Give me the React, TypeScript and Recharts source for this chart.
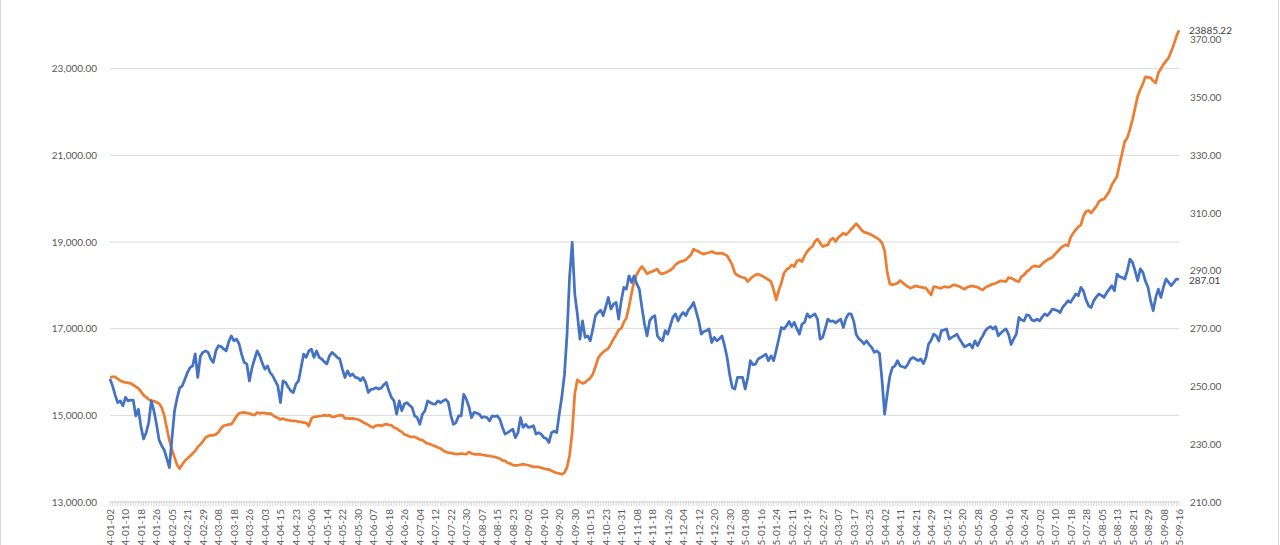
import { CartesianGrid, Line, LineChart, XAxis, YAxis } from 'recharts';

// exchange holidays on weekdays, used to build the trading-day axis
const holidays = [
  '2024-01-01', '2024-02-09', '2024-02-12', '2024-02-13', '2024-02-14', '2024-02-15', '2024-02-16',
  '2024-04-04', '2024-04-05', '2024-05-01', '2024-05-02', '2024-05-03', '2024-06-10',
  '2024-09-16', '2024-09-17', '2024-10-01', '2024-10-02', '2024-10-03', '2024-10-04', '2024-10-07',
  '2025-01-01', '2025-01-28', '2025-01-29', '2025-01-30', '2025-01-31', '2025-02-03', '2025-02-04',
  '2025-04-04', '2025-05-01', '2025-05-02', '2025-05-05', '2025-06-02',
];

function tradingDays(start: string, end: string) {
  const out: string[] = [];
  const d = new Date(start + 'T00:00:00Z');
  const stop = new Date(end + 'T00:00:00Z');
  while (d <= stop) {
    const s = d.toISOString().slice(0, 10);
    const wd = d.getUTCDay();
    if (wd !== 0 && wd !== 6 && !holidays.includes(s)) out.push(s);
    d.setUTCDate(d.getUTCDate() + 1);
  }
  return out;
}

const dates = tradingDays('2024-01-02', '2025-09-16');
const labelEvery = 6;

const leftTicks = [13000, 15000, 17000, 19000, 21000, 23000, 25000];
const rightTicks = [210, 230, 250, 270, 290, 310, 330, 350, 370, 390];

// left axis series (orange)
const orange = [
  15876, 15885, 15890, 15840, 15800, 15774, 15760, 15750, 15737, 15700,
  15660, 15622, 15550, 15467, 15420, 15367, 15340, 15330, 15300, 15275,
  15180, 15000, 14700, 14427, 14200, 14030, 13850, 13772, 13870, 13950,
  14003, 14060, 14119, 14180, 14272, 14330, 14400, 14490, 14520, 14542,
  14540, 14560, 14610, 14700, 14760, 14772, 14790, 14796, 14880, 14980,
  15044, 15060, 15067, 15050, 15044, 15020, 15005, 15067, 15044, 15060,
  15050, 15040, 15044, 15005, 14965, 14940, 14905, 14928, 14900, 14889,
  14880, 14874, 14865, 14855, 14850, 14830, 14827, 14750, 14930, 14965,
  14970, 14980, 14990, 15005, 14990, 15005, 14965, 14965, 14990, 15000,
  15005, 14928, 14930, 14925, 14928, 14915, 14905, 14880, 14840, 14813,
  14780, 14740, 14720, 14760, 14773, 14757, 14780, 14796, 14780, 14773,
  14720, 14697, 14650, 14618, 14560, 14542, 14510, 14503, 14503, 14470,
  14440, 14427, 14380, 14350, 14334, 14310, 14288, 14260, 14235, 14190,
  14156, 14140, 14133, 14115, 14103, 14110, 14119, 14110, 14103, 14156,
  14120, 14103, 14100, 14103, 14090, 14080, 14070, 14064, 14050, 14041,
  14020, 14003, 13960, 13948, 13900, 13888, 13850, 13848, 13848, 13860,
  13872, 13860, 13848, 13830, 13809, 13810, 13809, 13790, 13772, 13760,
  13749, 13720, 13694, 13670, 13657, 13640, 13680, 13800, 14080, 14620,
  15500, 15820, 15774, 15737, 15760, 15814, 15860, 15950, 16121, 16316,
  16400, 16460, 16507, 16547, 16650, 16760, 16854, 16970, 17009, 17150,
  17250, 17509, 17818, 18100, 18250, 18357, 18433, 18357, 18265, 18300,
  18318, 18350, 18373, 18281, 18265, 18290, 18318, 18350, 18396, 18480,
  18520, 18549, 18560, 18588, 18650, 18704, 18835, 18800, 18780, 18740,
  18720, 18745, 18758, 18780, 18750, 18735, 18740, 18745, 18710, 18681,
  18580, 18473, 18281, 18230, 18202, 18180, 18165, 18087, 18150, 18202,
  18240, 18257, 18230, 18202, 18165, 18130, 18087, 17900, 17663, 17880,
  18050, 18281, 18360, 18400, 18473, 18433, 18560, 18588, 18549, 18680,
  18780, 18850, 18896, 19011, 19067, 18980, 18896, 18920, 18935, 19050,
  19090, 19011, 19100, 19150, 19206, 19166, 19220, 19290, 19358, 19420,
  19358, 19280, 19229, 19210, 19189, 19160, 19127, 19090, 19050, 18974,
  18800, 18300, 18033, 18010, 18030, 18049, 18110, 18060, 18010, 17970,
  17934, 17960, 17987, 17970, 17957, 17945, 17934, 17855, 17779, 17971,
  17960, 17940, 17934, 17971, 17960, 17957, 17990, 18010, 17990, 17971,
  17940, 17911, 17957, 17975, 17987, 17970, 17957, 17920, 17894, 17948,
  17980, 18010, 18030, 18049, 18080, 18102, 18095, 18087, 18180, 18165,
  18140, 18100, 18087, 18202, 18241, 18318, 18357, 18420, 18449, 18440,
  18433, 18490, 18549, 18590, 18620, 18650, 18720, 18780, 18850, 18900,
  18935, 18912, 19100, 19206, 19282, 19350, 19397, 19600, 19705, 19728,
  19668, 19750, 19821, 19930, 19976, 19991, 20080, 20168, 20322, 20420,
  20514, 20800, 21055, 21323, 21402, 21600, 21825, 22095, 22364, 22519,
  22650, 22812, 22800, 22789, 22720, 22673, 22905, 23000, 23100, 23180,
  23251, 23404, 23560, 23740, 23885.22,
];

// right axis series (blue)
const blue = [
  252.6, 250.2, 247.0, 244.4, 245.0, 243.3, 246.2, 245.0, 245.3, 245.3,
  239.8, 242.1, 236.0, 231.8, 234.0, 237.5, 245.0, 241.6, 237.0, 231.5,
  229.5, 228.0, 225.0, 221.9, 232.0, 241.6, 246.0, 249.5, 250.2, 252.5,
  254.8, 256.5, 257.1, 261.3, 253.1, 260.5, 261.8, 262.3, 261.8, 259.5,
  258.3, 262.3, 264.1, 263.8, 263.0, 262.3, 265.5, 267.5, 265.8, 266.4,
  264.7, 261.0, 258.3, 257.7, 251.9, 256.5, 259.5, 262.3, 260.6, 258.0,
  256.0, 257.1, 254.8, 253.7, 251.9, 250.2, 244.4, 251.9, 251.4, 249.8,
  248.5, 247.9, 250.8, 251.9, 256.5, 261.2, 260.1, 262.3, 262.9, 260.1,
  262.3, 260.1, 259.5, 258.5, 257.8, 260.6, 261.8, 261.0, 260.1, 259.5,
  256.0, 253.1, 255.4, 253.7, 254.3, 253.1, 253.0, 252.0, 253.1, 251.4,
  247.9, 249.0, 249.1, 249.6, 249.1, 249.4, 250.5, 251.4, 248.5, 246.2,
  245.0, 240.4, 245.0, 241.6, 243.9, 244.4, 243.5, 242.7, 239.8, 239.2,
  236.9, 240.4, 241.6, 245.0, 244.4, 244.0, 243.9, 245.0, 244.4, 245.0,
  245.5, 244.5, 240.0, 236.9, 237.5, 239.8, 239.8, 247.3, 245.6, 243.0,
  239.2, 241.0, 240.8, 240.4, 239.2, 239.5, 239.2, 238.1, 239.8, 239.6,
  239.8, 238.6, 235.8, 233.5, 234.0, 234.6, 235.2, 232.3, 234.0, 239.2,
  235.8, 236.9, 235.8, 236.0, 236.4, 233.5, 234.0, 233.5, 232.3, 232.0,
  230.6, 234.0, 234.5, 234.0, 240.5, 246.5, 254.0, 268.0, 288.0, 299.9,
  282.0, 275.0, 266.4, 272.7, 267.0, 267.5, 265.8, 270.0, 274.5, 275.6,
  276.4, 274.5, 277.5, 280.8, 276.8, 278.5, 279.1, 273.3, 279.7, 284.3,
  283.7, 288.3, 286.0, 288.3, 285.5, 283.7, 277.3, 271.6, 267.5, 272.7,
  274.0, 274.5, 267.5, 266.4, 265.8, 269.3, 268.1, 271.0, 274.0, 275.1,
  272.7, 274.5, 275.6, 274.5, 276.5, 277.5, 279.1, 276.0, 272.7, 268.1,
  269.0, 269.3, 269.9, 265.2, 267.0, 265.8, 266.5, 267.5, 264.1, 260.0,
  254.0, 249.6, 249.1, 253.1, 253.1, 253.1, 249.1, 253.1, 258.9, 257.5,
  257.7, 259.5, 260.0, 260.6, 261.2, 258.9, 260.6, 258.9, 262.5, 266.4,
  270.4, 269.9, 271.0, 272.5, 270.7, 272.2, 270.0, 268.1, 271.6, 272.2,
  275.1, 273.9, 274.5, 275.1, 273.3, 266.4, 267.0, 270.0, 273.3, 272.5,
  272.7, 272.0, 272.7, 273.3, 270.4, 273.5, 275.1, 275.1, 272.7, 268.0,
  266.5, 265.8, 264.7, 265.8, 264.5, 263.5, 261.8, 262.3, 261.5, 252.0,
  240.4, 247.3, 253.5, 256.5, 257.1, 258.9, 257.1, 256.8, 256.5, 257.7,
  259.5, 260.0, 259.5, 258.9, 259.5, 257.9, 260.0, 264.6, 266.0, 268.1,
  267.5, 265.8, 269.3, 269.5, 269.9, 266.4, 267.0, 267.5, 268.1, 266.4,
  265.0, 263.7, 264.2, 264.7, 263.3, 265.8, 264.1, 266.0, 267.5, 269.3,
  270.2, 270.7, 269.9, 270.7, 267.5, 268.5, 269.3, 269.9, 268.0, 264.5,
  266.5, 268.1, 273.9, 273.0, 272.7, 274.8, 274.5, 273.0, 272.7, 273.3,
  272.7, 274.0, 275.1, 274.5, 275.5, 276.8, 276.5, 276.2, 275.6, 277.5,
  278.5, 279.7, 279.1, 280.5, 282.0, 281.4, 284.3, 283.0, 280.0, 277.9,
  277.3, 279.7, 281.0, 282.0, 281.5, 280.8, 282.5, 283.7, 284.9, 283.1,
  288.9, 288.0, 287.7, 287.2, 290.1, 294.1, 292.9, 290.0, 286.6, 290.7,
  289.5, 286.5, 284.3, 279.7, 276.2, 280.8, 283.7, 280.8, 284.5, 287.2,
  286.0, 284.9, 286.0, 287.2, 287.01,
];

const data = dates.map((date, i) => ({ date, orange: orange[i], blue: blue[i] }));
const last = data.length - 1;

const orangeColor = '#ed7d31';
const blueColor = '#4472c4';
const axisText = '#595959';
const gridColor = '#d9d9d9';
const font = 'Lato, "Liberation Sans", sans-serif';
const fontSize = 10;

const DateTick = (props: any) => {
  const { x, y, payload, index } = props;
  if (index % labelEvery !== 0) return <g />;
  const ty = y + 1;
  return (
    <text x={x} y={ty} transform={`rotate(-90, ${x}, ${ty})`} textAnchor="end" dominantBaseline="central"
      fontSize={fontSize} fontFamily={font} fill={axisText}>
      {payload.value}
    </text>
  );
};

const endLabel = (fmt: (v: number) => string) => (props: any) => {
  const { x, y, value, index } = props;
  if (index !== last) return <g />;
  return (
    <text x={x + 10} y={y} dominantBaseline="central" fontSize={fontSize} fontFamily={font} fill="#404040">
      {fmt(value)}
    </text>
  );
};

export default function App() {
  return (
    <div style={{ position: 'fixed', inset: 0, overflow: 'hidden', background: '#fff' }}>
      <div style={{ position: 'absolute', left: 0, top: -5, width: 1279, height: 600, boxSizing: 'border-box', border: `1px solid ${gridColor}` }} />
      <div style={{ position: 'absolute', left: 0, top: -30 }}>
        <LineChart width={1280} height={592} data={data} margin={{ top: 12, right: 0, bottom: 0, left: 0 }}>
          <CartesianGrid yAxisId="left" vertical={false} stroke={gridColor} />
          <XAxis dataKey="date" interval={0} tick={DateTick} tickSize={4} height={60}
            stroke={gridColor} tickLine={{ stroke: gridColor }} padding={{ left: 0, right: 0 }} />
          <YAxis yAxisId="left" orientation="left" width={110} domain={[13000, 25000]} ticks={leftTicks}
            axisLine={false} tickLine={false} tickSize={0} tickMargin={13} interval={0}
            tick={{ fontSize, fontFamily: font, fill: axisText }}
            tickFormatter={(v: number) => v.toLocaleString('en-US', { minimumFractionDigits: 2, maximumFractionDigits: 2 })} />
          <YAxis yAxisId="right" orientation="right" width={101} domain={[210, 390]} ticks={rightTicks}
            axisLine={false} tickLine={false} tickSize={0} tickMargin={11} interval={0}
            tick={{ fontSize, fontFamily: font, fill: axisText }}
            tickFormatter={(v: number) => v.toFixed(2)} />
          <Line yAxisId="left" dataKey="orange" stroke={orangeColor} strokeWidth={2.75} dot={false}
            isAnimationActive={false} strokeLinejoin="round" label={endLabel((v) => v.toFixed(2))} />
          <Line yAxisId="right" dataKey="blue" stroke={blueColor} strokeWidth={2.75} dot={false}
            isAnimationActive={false} strokeLinejoin="round" label={endLabel((v) => v.toFixed(2))} />
        </LineChart>
      </div>
    </div>
  );
}
